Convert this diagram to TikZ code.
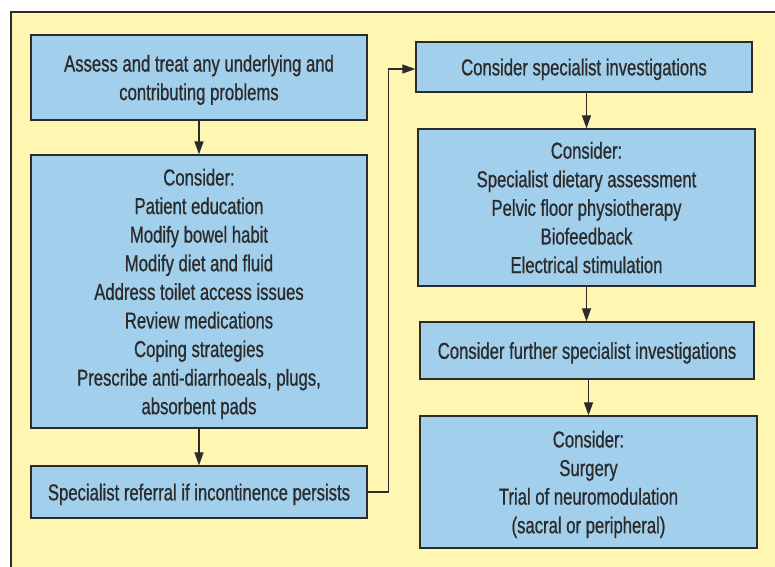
\documentclass[tikz,border=0pt]{standalone}
\usepackage{fontspec}
\setmainfont[FakeStretch=0.725,FakeBold=0.8]{Liberation Sans}
\usetikzlibrary{arrows.meta}
\definecolor{panelyellow}{HTML}{FFF6B2}
\definecolor{boxblue}{HTML}{A2CFEC}
\definecolor{inkgray}{HTML}{2B2B2B}

\begin{document}
\begin{tikzpicture}[x=1pt,y=-1pt,
  box/.style={draw=inkgray,line width=1.3pt,fill=boxblue,text=inkgray,align=center,
    minimum width=336pt,inner sep=0pt,font=\fontsize{23}{28.6}\selectfont,
    text depth=-2pt},
  link/.style={draw=inkgray,line width=1.2pt,-{Triangle[length=13pt,width=9pt]}}]
\useasboundingbox (0,0) rectangle (775,566);
\fill[white] (0,0) rectangle (775,566);
\draw[fill=panelyellow,draw=inkgray,line width=1.5pt] (11,12) rectangle (790,580);
% left column
\node [box,minimum height=85pt] (assess) at (199,77.5)
  {Assess and treat any underlying and\\contributing problems};
\node [box,minimum height=273pt] (basic) at (199,291.5)
  {Consider:\\Patient education\\Modify bowel habit\\Modify diet and fluid\\
   Address toilet access issues\\Review medications\\Coping strategies\\
   Prescribe anti-diarrhoeals, plugs,\\absorbent pads};
\node [box,minimum height=52pt] (referral) at (199,492)
  {Specialist referral if incontinence persists};
% right column
\node [box,minimum height=50pt] (invest) at (584,67)
  {Consider specialist investigations};
\node [box,minimum width=337pt,minimum height=157pt] (therapy) at (586.5,207.5)
  {Consider:\\Specialist dietary assessment\\Pelvic floor physiotherapy\\
   Biofeedback\\Electrical stimulation};
\node [box,minimum width=334pt,minimum height=57pt] (further) at (587,350.5)
  {Consider further specialist investigations};
\node [box,minimum width=337pt,minimum height=132pt] (surgery) at (588.5,482)
  {Consider:\\Surgery\\Trial of neuromodulation\\(sacral or peripheral)};
% connectors
\draw [link] (assess) -- (basic);
\draw [link] (basic) -- (referral);
\draw [link] (referral.east) -- ++(21,0) |- ([yshift=-2pt]invest.west);
\draw [link] (invest.south -| therapy.north) -- (therapy.north);
\draw [link] (therapy.south) -- (therapy.south |- further.north);
\draw [link] (further.south -| surgery.north) -- (surgery.north);
\end{tikzpicture}
\end{document}
